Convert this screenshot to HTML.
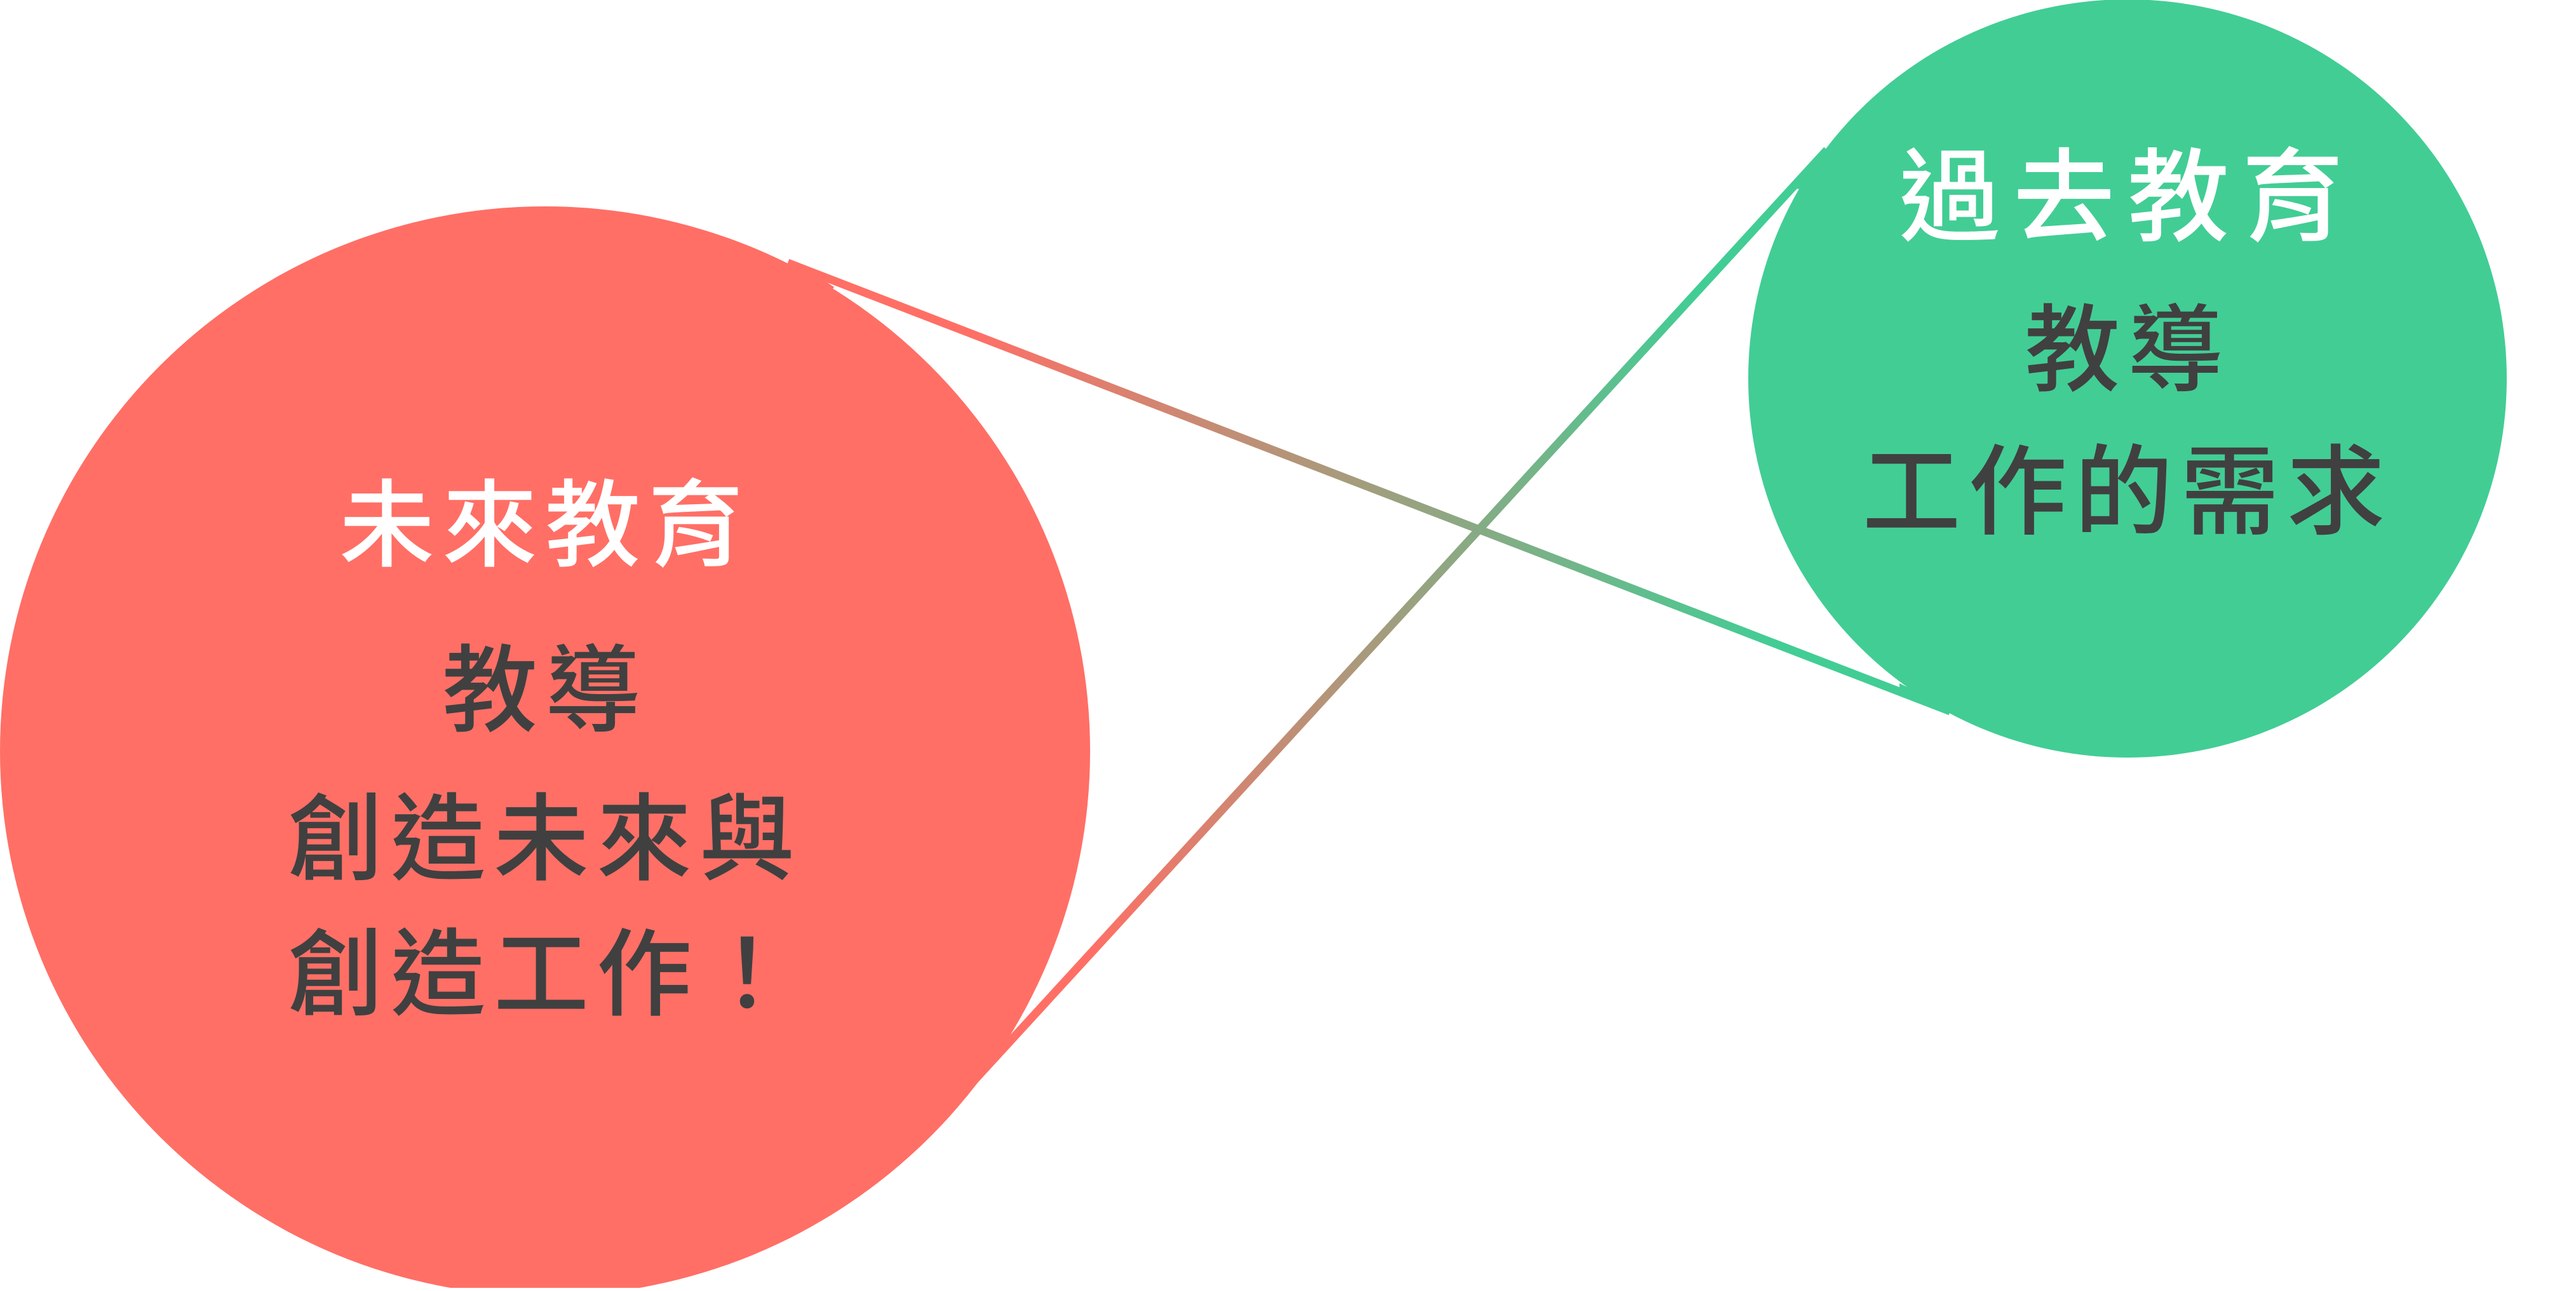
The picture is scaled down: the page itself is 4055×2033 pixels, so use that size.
<!DOCTYPE html>
<html><head><meta charset="utf-8"><style>
html,body{margin:0;padding:0;background:#fff;}
body{width:4055px;height:2028px;overflow:hidden;}
text{font-family:"Liberation Sans","Noto Sans CJK TC",sans-serif;font-weight:500;text-anchor:middle;}
</style></head><body>
<svg width="4055" height="2028" viewBox="0 0 4055 2028" xmlns="http://www.w3.org/2000/svg">
<defs>
<linearGradient id="ga" gradientUnits="userSpaceOnUse" x1="1253" y1="418" x2="3068" y2="1118">
<stop offset="0.15" stop-color="#FF6F66"/><stop offset="0.85" stop-color="#42CD95"/></linearGradient>
<linearGradient id="gb" gradientUnits="userSpaceOnUse" x1="1508" y1="1729" x2="2873" y2="239">
<stop offset="0.15" stop-color="#FF6F66"/><stop offset="0.85" stop-color="#42CD95"/></linearGradient>
</defs>
<circle cx="858" cy="1183" r="858" fill="#FF6F66"/>
<circle cx="3349" cy="596" r="597" fill="#42CD95"/>
<line x1="1240" y1="414" x2="3070" y2="1120" stroke="url(#ga)" stroke-width="13"/>
<line x1="1500" y1="1738" x2="2876" y2="236" stroke="url(#gb)" stroke-width="13"/>
<polygon points="1253,412 1313,452 1260,520 1150,480" fill="#FF6F66"/>
<polygon points="1572,1637 1520,1715 1450,1700" fill="#FF6F66"/>
<polygon points="2873,238 2817,297 2900,300" fill="#42CD95"/>
<polygon points="2990,1076 3070,1114 3066,1124 2990,1092" fill="#42CD95"/>
<text x="858" y="880" font-size="150" fill="#fff" letter-spacing="12">未來教育</text>
<text x="858" y="1140" font-size="150" fill="#404040" letter-spacing="12">教導</text>
<text x="858" y="1374" font-size="150" fill="#404040" letter-spacing="12">創造未來與</text>
<text x="858" y="1587" font-size="150" fill="#404040" letter-spacing="12">創造工作！</text>
<text x="3349" y="367" font-size="160" fill="#fff" letter-spacing="20">過去教育</text>
<text x="3349" y="604" font-size="150" fill="#404040" letter-spacing="12">教導</text>
<text x="3349" y="829" font-size="155" fill="#404040" letter-spacing="12">工作的需求</text>
</svg>
</body></html>
